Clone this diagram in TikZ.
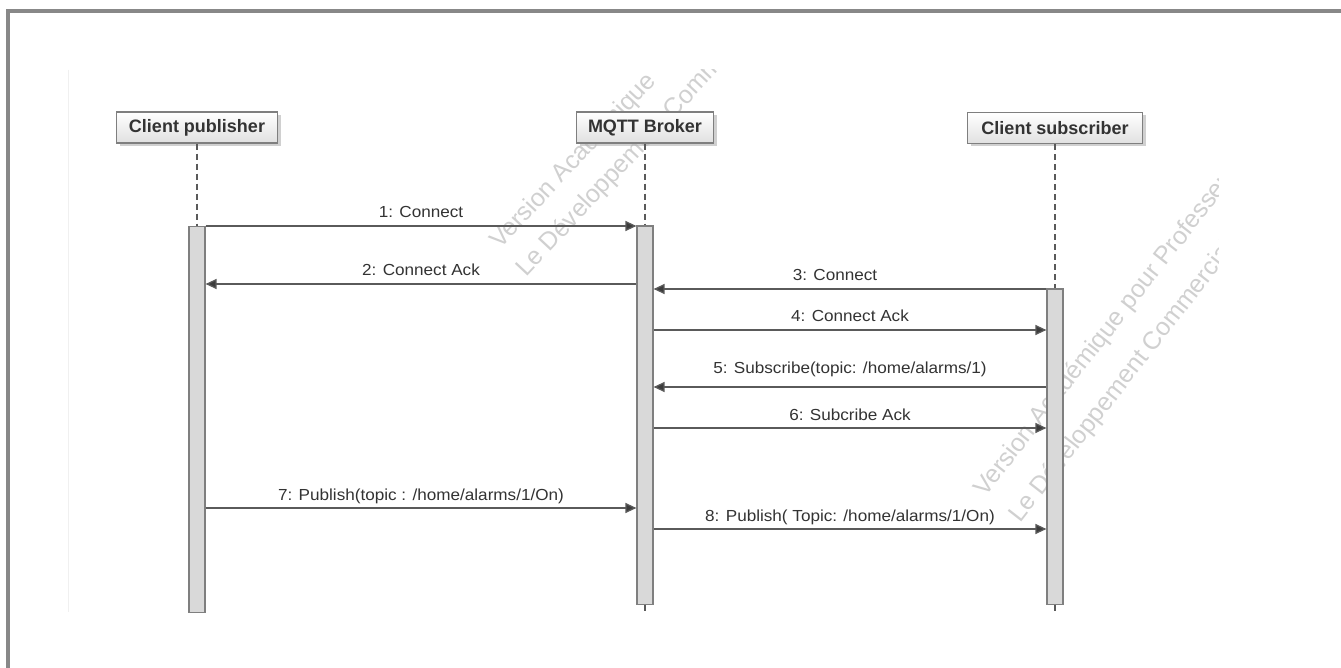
\documentclass[tikz,border=0pt]{standalone}
\usepackage{fontspec}
\setmainfont{Liberation Sans}
\newfontfamily\lblfont[FakeStretch=1.07]{Liberation Sans}
\usetikzlibrary{arrows.meta,shadows}
\definecolor{framegray}{HTML}{888888}
\definecolor{linegray}{HTML}{5A5A5A}
\definecolor{tipgray}{HTML}{3C3C3C}
\definecolor{actfill}{HTML}{D9D9D9}
\definecolor{actdraw}{HTML}{7F7F7F}
\definecolor{txt}{HTML}{333333}
\definecolor{wm}{HTML}{D0D0D0}
\tikzset{
  head/.style={draw=actdraw, line width=1.2pt, top color=white, bottom color=black!12,
    minimum width=#1, minimum height=31pt, inner sep=0pt, text=txt,
    font=\bfseries\fontsize{18}{20}\selectfont,
    drop shadow={shadow xshift=3pt, shadow yshift=-3pt, fill=black!30, opacity=0.6}},
  act/.style={draw=actdraw, fill=actfill, line width=1.2pt, minimum width=16pt,
    inner sep=0pt, anchor=north},
  life/.style={draw=linegray, line width=1.1pt, dash pattern=on 6pt off 4pt},
  msg/.style={draw=linegray, line width=1.3pt, -{Triangle[length=11pt,width=10pt,fill=tipgray]}},
  lbl/.style={anchor=base, yshift=8pt, text=txt, font=\lblfont\fontsize{16}{18}\selectfont},
  wmtext/.style={anchor=base west, rotate=#1, text=wm, inner sep=0pt, font=\fontsize{25}{27}\selectfont}
}
\begin{document}
\begin{tikzpicture}[x=1pt,y=-1pt]
\useasboundingbox (0,0) rectangle (1341,668);
\fill[white] (0,0) rectangle (1341,668);
% outer frame (partly cropped)
\draw[framegray, line width=3.5pt] (8,668) -- (8,11) -- (1341,11);
% faint edge of the inner screenshot
\draw[black!6, line width=1pt] (68,70) -- (68,612);
% watermark
\begin{scope}
\clip (68,70) rectangle (1218,612);
\node[wmtext=47] (wm1) at (500,250) {Version Académique};
\node[wmtext=47] (wm2) at (526,278) {Le Développement Commercial};
\node[wmtext=52] (wm3) at (985,498) {Version Académique pour Professeurs};
\node[wmtext=52] (wm4) at (1020,524) {Le Développement Commercial};
\end{scope}
% y levels
\coordinate (y1) at (0,226);
\coordinate (y2) at (0,284);
\coordinate (y3) at (0,289);
\coordinate (y4) at (0,330);
\coordinate (y5) at (0,387);
\coordinate (y6) at (0,428);
\coordinate (y7) at (0,508);
\coordinate (y8) at (0,529);
% headers
\node[head=161pt] (pub) at (197,127.5) {Client publisher};
\node[head=137pt] (brk) at (645,127.5) {MQTT Broker};
\node[head=175pt] (sub) at (1055,128) {Client subscriber};
% activation bars
\node[act, minimum height=386pt] (pa) at (197,226) {};
\node[act, minimum height=378pt] (ba) at (645,225.5) {};
\node[act, minimum height=315pt] (sa) at (1055,288.5) {};
\coordinate (bend) at (645,612);
\coordinate (send) at (1055,612);
% lifelines
\draw[life] (pub.south) -- (pa.north);
\draw[life] (brk.south) -- (ba.north);
\draw[life] (sub.south) -- (sa.north);
\draw[life] (ba.south) -- (bend);
\draw[life] (sa.south) -- (send);
% messages
\draw[msg] (pa.east |- y1) -- node[lbl] (m1) {1: Connect} (ba.west |- y1);
\draw[msg] (ba.west |- y2) -- node[lbl] (m2) {2: Connect Ack} (pa.east |- y2);
\draw[msg] (sa.west |- y3) -- node[lbl, xshift=-15pt] (m3) {3: Connect} (ba.east |- y3);
\draw[msg] (ba.east |- y4) -- node[lbl] (m4) {4: Connect Ack} (sa.west |- y4);
\draw[msg] (sa.west |- y5) -- node[lbl, yshift=6pt] (m5) {5: Subscribe(topic: /home/alarms/1)} (ba.east |- y5);
\draw[msg] (ba.east |- y6) -- node[lbl] (m6) {6: Subcribe Ack} (sa.west |- y6);
\draw[msg] (pa.east |- y7) -- node[lbl] (m7) {7: Publish(topic : /home/alarms/1/On)} (ba.west |- y7);
\draw[msg] (ba.east |- y8) -- node[lbl] (m8) {8: Publish( Topic: /home/alarms/1/On)} (sa.west |- y8);
\end{tikzpicture}
\end{document}
